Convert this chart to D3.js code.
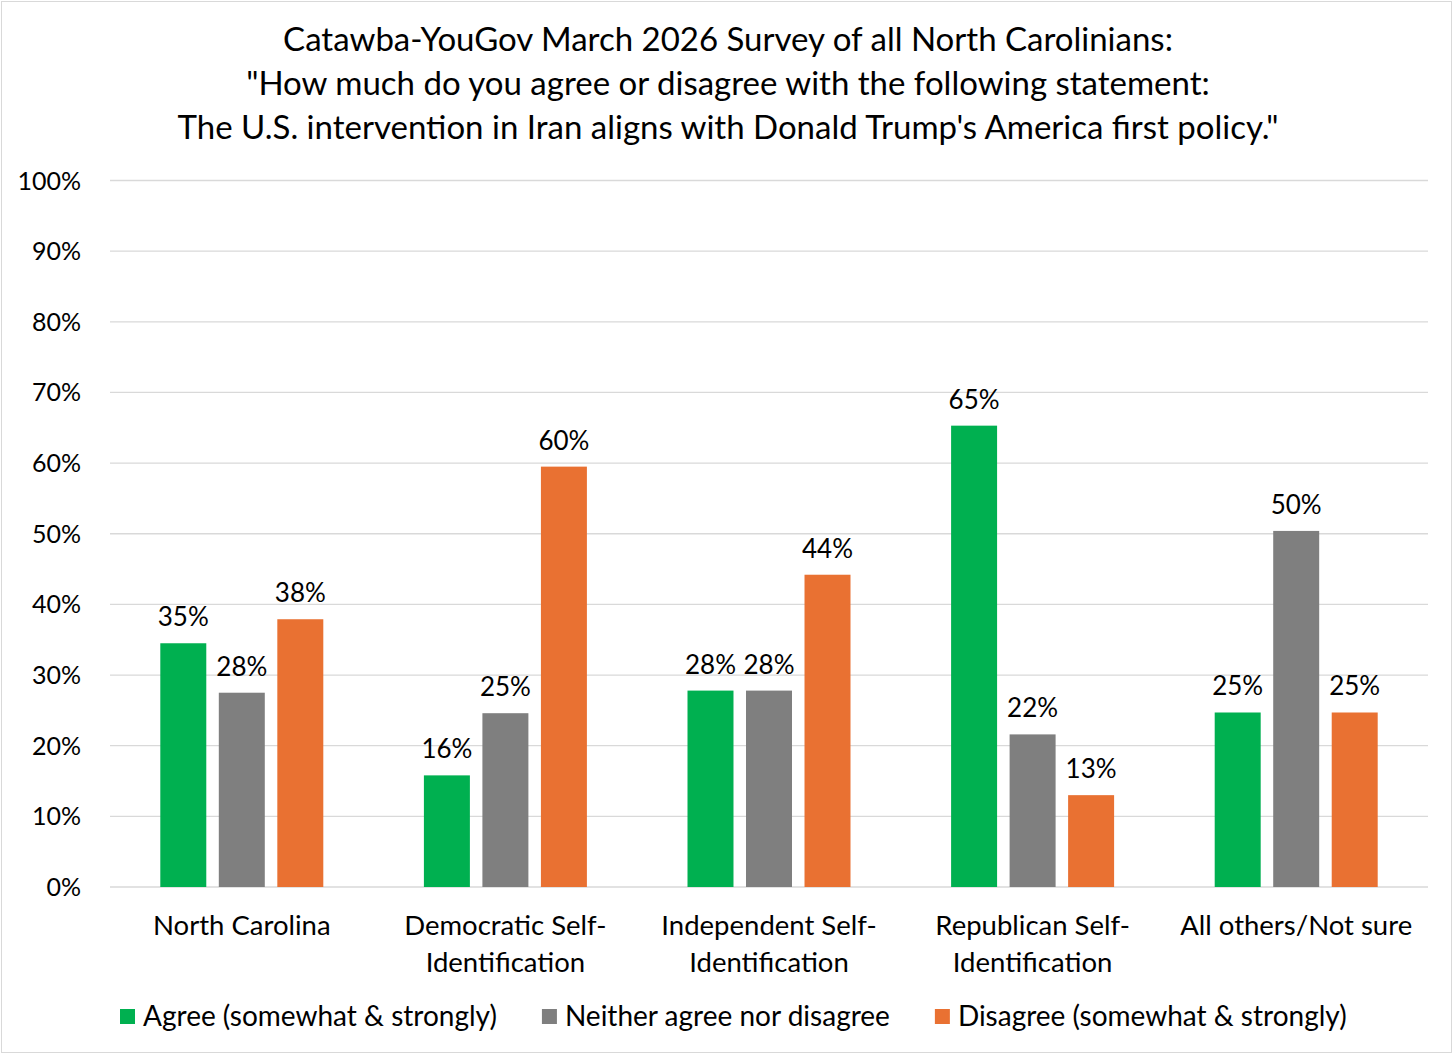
<!DOCTYPE html>
<html>
<head>
<meta charset="utf-8">
<script src="https://cdn.jsdelivr.net/npm/d3@7"></script>
<style>
  body { margin: 0; background: #fff; }
  text { font-family: Lato, "Open Sans", sans-serif; fill: #000; }
</style>
</head>
<body>
<svg id="chart"></svg>
<script>
// chart data
const categories = [
  ['North Carolina'],
  ['Democratic Self-', 'Identification'],
  ['Independent Self-', 'Identification'],
  ['Republican Self-', 'Identification'],
  ['All others/Not sure']
];
const seriesNames = ['Agree (somewhat & strongly)', 'Neither agree nor disagree', 'Disagree (somewhat & strongly)'];
const agree    = [34.5, 15.8, 27.8, 65.3, 24.7];
const neither  = [27.5, 24.6, 27.8, 21.6, 50.4];
const disagree = [37.9, 59.5, 44.2, 13.0, 24.7];
const yTicks = [0, 10, 20, 30, 40, 50, 60, 70, 80, 90, 100];
const titleLines = [
  'Catawba-YouGov March 2026 Survey of all North Carolinians:',
  '"How much do you agree or disagree with the following statement:',
  'The U.S. intervention in Iran aligns with Donald Trump\'s America first policy."'
];

const width = 1456;
const height = 1057;
const colors = ['#00B050', '#7F7F7F', '#E97132'];

const svg = d3.select('#chart')
  .attr('width', width)
  .attr('height', height);

// outer frame
svg.append('rect')
  .attr('x', 1.5).attr('y', 1.5)
  .attr('width', width - 6).attr('height', height - 6)
  .style('fill', '#fff')
  .style('stroke', '#d9d9d9')
  .style('stroke-width', 1);

// title
svg.append('g').selectAll('text')
  .data(titleLines)
  .join('text')
  .attr('x', 728)
  .attr('y', (d, i) => 51 + i * 44)
  .style('font-size', '33px')
  .style('text-anchor', 'middle')
  .text(d => d);

// scales
const plotL = 110, plotR = 1428, plotT = 180.5, plotB = 887;
const keys = categories.map((c, i) => i);
const x0 = d3.scaleBand().domain(keys).range([plotL, plotR]);
const groupW = 163;
const x1 = d3.scaleBand().domain([0, 1, 2])
  .range([(x0.bandwidth() - groupW) / 2, (x0.bandwidth() + groupW) / 2])
  .paddingInner(0.214);
const y = d3.scaleLinear().domain([0, 100]).range([plotB, plotT]);

// gridlines
svg.append('g').selectAll('line')
  .data(yTicks)
  .join('line')
  .attr('x1', plotL).attr('x2', plotR)
  .attr('y1', d => y(d)).attr('y2', d => y(d))
  .style('stroke', '#d9d9d9')
  .style('stroke-width', 1.3);

// y axis labels
svg.append('g').selectAll('text')
  .data(yTicks)
  .join('text')
  .attr('x', 81)
  .attr('y', d => y(d) + 9)
  .style('font-size', '25px')
  .style('text-anchor', 'end')
  .text(d => d + '%');

// bars
const series = [agree, neither, disagree];
const barData = [];
series.forEach((vals, s) => {
  vals.forEach((v, c) => barData.push({ c: c, s: s, v: v }));
});

const bars = svg.append('g');
bars.selectAll('rect')
  .data(barData)
  .join('rect')
  .attr('x', d => x0(d.c) + x1(d.s))
  .attr('y', d => y(d.v))
  .attr('width', x1.bandwidth())
  .attr('height', d => y(0) - y(d.v))
  .style('fill', d => colors[d.s]);

// value labels
bars.selectAll('text')
  .data(barData)
  .join('text')
  .attr('x', d => x0(d.c) + x1(d.s) + x1.bandwidth() / 2)
  .attr('y', d => y(d.v) - 17)
  .style('font-size', '26px')
  .style('text-anchor', 'middle')
  .text(d => Math.round(d.v) + '%');

// category labels
const catG = svg.append('g').selectAll('text')
  .data(categories)
  .join('text')
  .attr('x', (d, i) => x0(i) + x0.bandwidth() / 2)
  .attr('y', 935)
  .style('font-size', '27.5px')
  .style('text-anchor', 'middle');
catG.selectAll('tspan')
  .data(d => d)
  .join('tspan')
  .attr('x', function () { return d3.select(this.parentNode).attr('x'); })
  .attr('dy', (d, i) => i === 0 ? 0 : 37)
  .text(d => d);

// legend
const legend = svg.append('g');
let lx = 120;
seriesNames.forEach((name, i) => {
  legend.append('rect')
    .attr('x', lx).attr('y', 1009)
    .attr('width', 15).attr('height', 15)
    .style('fill', colors[i]);
  const t = legend.append('text')
    .attr('x', lx + 23)
    .attr('y', 1026)
    .style('font-size', '28px')
    .text(name);
  lx += 23 + t.node().getComputedTextLength() + 45;
});
</script>
</body>
</html>
